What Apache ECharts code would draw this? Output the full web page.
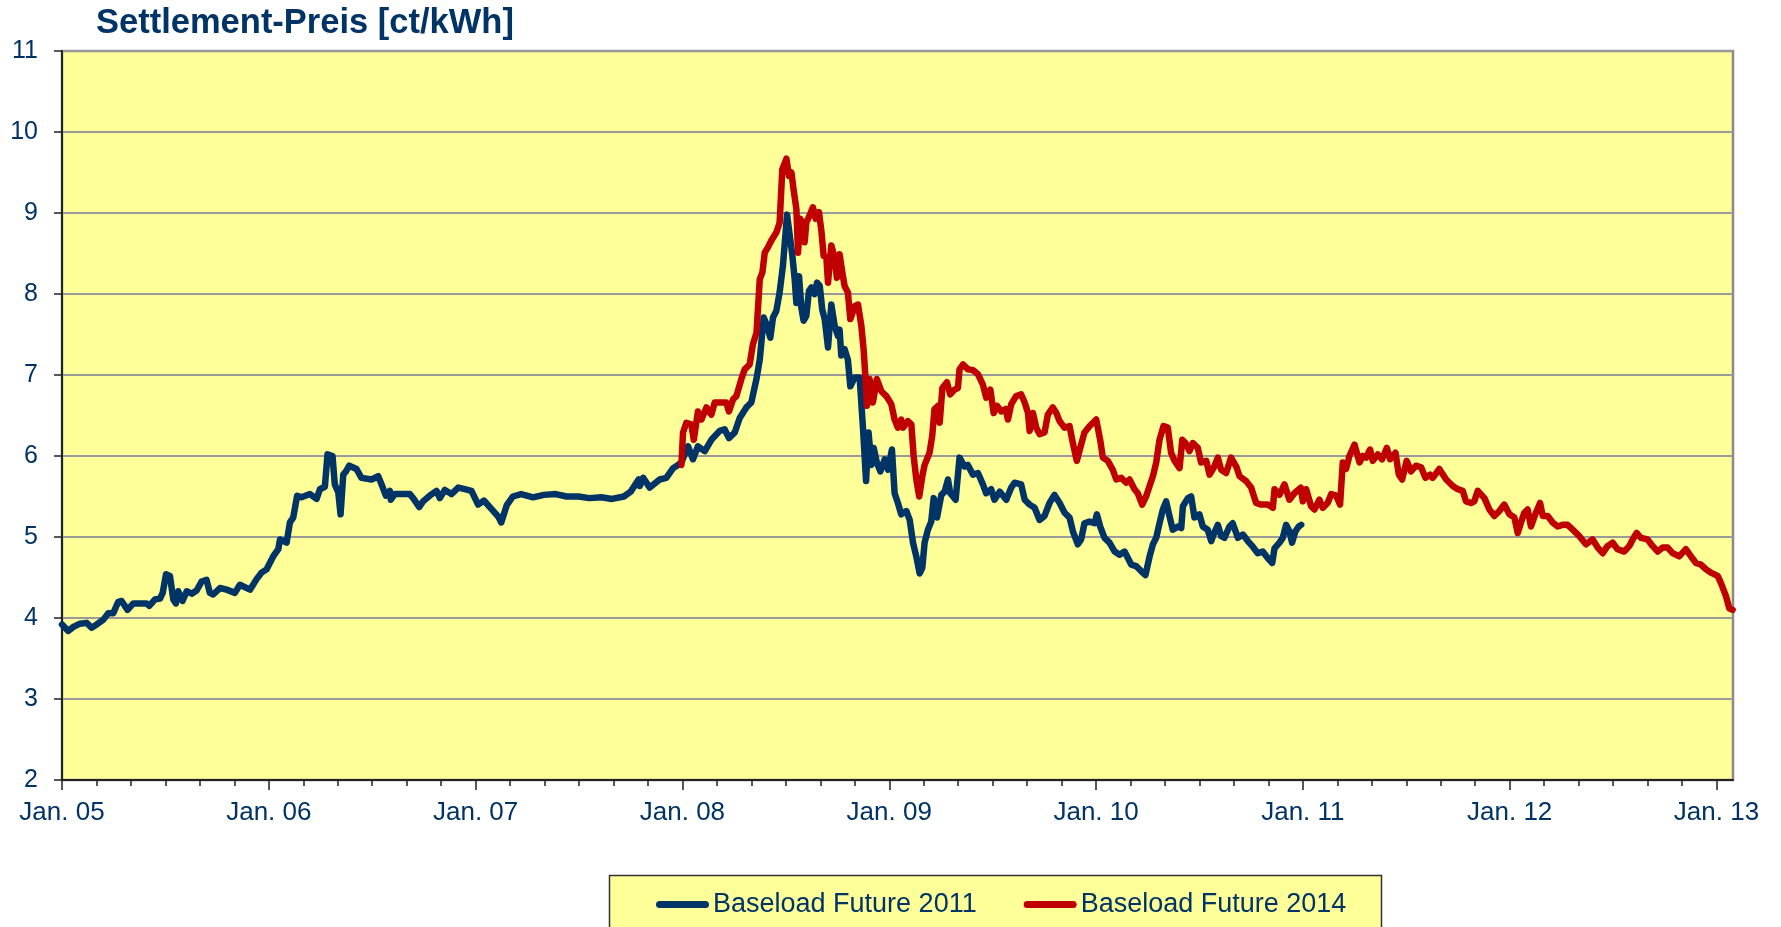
<!DOCTYPE html>
<html>
<head>
<meta charset="utf-8">
<title>Settlement-Preis</title>
<script src="https://cdn.jsdelivr.net/npm/echarts@6/dist/echarts.min.js"></script>
<style>
    html, body { margin: 0; padding: 0; background: #ffffff; }
    #chart { width: 1781px; height: 927px; }
</style>
</head>
<body>
<div id="chart"></div>
<script>
// x values are decimal years, y values in ct/kWh
var future2011 = [
    [2005.000, 3.92], [2005.030, 3.84], [2005.055, 3.89], [2005.087, 3.93], [2005.119, 3.94],
    [2005.143, 3.88], [2005.168, 3.92], [2005.200, 3.98], [2005.224, 4.06], [2005.248, 4.06],
    [2005.272, 4.20], [2005.288, 4.21], [2005.317, 4.10], [2005.345, 4.18], [2005.409, 4.18],
    [2005.422, 4.15], [2005.450, 4.23], [2005.474, 4.24], [2005.487, 4.31], [2005.503, 4.54],
    [2005.522, 4.52], [2005.538, 4.23], [2005.551, 4.18], [2005.562, 4.33], [2005.583, 4.21],
    [2005.603, 4.33], [2005.627, 4.30], [2005.651, 4.34], [2005.675, 4.45], [2005.699, 4.47],
    [2005.715, 4.31], [2005.731, 4.29], [2005.764, 4.37], [2005.796, 4.35], [2005.836, 4.31],
    [2005.860, 4.41], [2005.909, 4.35], [2005.941, 4.48], [2005.965, 4.56], [2005.989, 4.60],
    [2006.021, 4.76], [2006.046, 4.85], [2006.054, 4.97], [2006.086, 4.93], [2006.102, 5.18],
    [2006.118, 5.24], [2006.137, 5.51], [2006.158, 5.49], [2006.199, 5.53], [2006.231, 5.47],
    [2006.247, 5.59], [2006.271, 5.62], [2006.284, 6.02], [2006.308, 6.00], [2006.319, 5.65],
    [2006.336, 5.55], [2006.347, 5.28], [2006.360, 5.77], [2006.373, 5.81], [2006.389, 5.88],
    [2006.424, 5.84], [2006.448, 5.73], [2006.497, 5.71], [2006.529, 5.75], [2006.545, 5.65],
    [2006.566, 5.51], [2006.585, 5.57], [2006.590, 5.46], [2006.609, 5.53], [2006.682, 5.53],
    [2006.698, 5.48], [2006.727, 5.37], [2006.746, 5.44], [2006.778, 5.51], [2006.811, 5.57],
    [2006.827, 5.48], [2006.851, 5.58], [2006.883, 5.53], [2006.916, 5.61], [2006.948, 5.59],
    [2006.980, 5.57], [2007.012, 5.40], [2007.040, 5.45], [2007.086, 5.32], [2007.110, 5.25],
    [2007.124, 5.18], [2007.150, 5.39], [2007.180, 5.50], [2007.220, 5.53], [2007.278, 5.49],
    [2007.330, 5.52], [2007.387, 5.53], [2007.440, 5.50], [2007.497, 5.50], [2007.550, 5.48],
    [2007.607, 5.49], [2007.660, 5.47], [2007.717, 5.50], [2007.750, 5.56], [2007.788, 5.71],
    [2007.794, 5.63], [2007.810, 5.73], [2007.842, 5.61], [2007.890, 5.71], [2007.922, 5.73],
    [2007.955, 5.85], [2007.979, 5.89], [2007.995, 5.92], [2008.027, 6.12], [2008.051, 5.96],
    [2008.075, 6.12], [2008.108, 6.06], [2008.140, 6.20], [2008.180, 6.31], [2008.204, 6.33],
    [2008.225, 6.22], [2008.253, 6.29], [2008.277, 6.47], [2008.309, 6.60], [2008.333, 6.66],
    [2008.358, 6.95], [2008.374, 7.19], [2008.393, 7.71], [2008.409, 7.61], [2008.425, 7.46],
    [2008.438, 7.71], [2008.454, 7.79], [2008.470, 8.02], [2008.486, 8.35], [2008.506, 8.98],
    [2008.519, 8.72], [2008.531, 8.49], [2008.543, 8.18], [2008.551, 7.89], [2008.564, 8.22],
    [2008.575, 7.83], [2008.586, 7.67], [2008.599, 7.73], [2008.612, 8.04], [2008.623, 8.08],
    [2008.639, 8.00], [2008.651, 8.14], [2008.664, 8.10], [2008.676, 7.81], [2008.688, 7.69],
    [2008.704, 7.34], [2008.720, 7.87], [2008.736, 7.61], [2008.752, 7.48], [2008.760, 7.56],
    [2008.768, 7.24], [2008.784, 7.32], [2008.800, 7.19], [2008.812, 6.86], [2008.833, 6.97],
    [2008.857, 6.97], [2008.873, 6.35], [2008.888, 5.69], [2008.900, 6.29], [2008.914, 5.89],
    [2008.925, 6.10], [2008.940, 5.92], [2008.957, 5.81], [2008.978, 5.96], [2008.994, 5.83],
    [2009.013, 6.08], [2009.026, 5.54], [2009.042, 5.42], [2009.058, 5.28], [2009.083, 5.32],
    [2009.099, 5.21], [2009.115, 4.93], [2009.131, 4.76], [2009.147, 4.55], [2009.160, 4.62],
    [2009.171, 4.93], [2009.187, 5.09], [2009.203, 5.19], [2009.215, 5.48], [2009.231, 5.24],
    [2009.252, 5.52], [2009.268, 5.56], [2009.284, 5.71], [2009.295, 5.54], [2009.321, 5.46],
    [2009.340, 5.98], [2009.364, 5.87], [2009.380, 5.89], [2009.405, 5.77], [2009.429, 5.79],
    [2009.453, 5.65], [2009.469, 5.54], [2009.493, 5.59], [2009.509, 5.46], [2009.534, 5.56],
    [2009.566, 5.46], [2009.590, 5.61], [2009.606, 5.67], [2009.638, 5.65], [2009.655, 5.46],
    [2009.679, 5.40], [2009.703, 5.36], [2009.727, 5.21], [2009.751, 5.26], [2009.775, 5.42],
    [2009.799, 5.52], [2009.824, 5.42], [2009.848, 5.30], [2009.872, 5.24], [2009.888, 5.07],
    [2009.912, 4.91], [2009.928, 4.97], [2009.944, 5.17], [2009.968, 5.19], [2009.993, 5.17],
    [2010.004, 5.28], [2010.020, 5.13], [2010.041, 4.99], [2010.065, 4.93], [2010.090, 4.82],
    [2010.114, 4.78], [2010.138, 4.82], [2010.154, 4.74], [2010.170, 4.66], [2010.194, 4.64],
    [2010.218, 4.58], [2010.239, 4.53], [2010.259, 4.76], [2010.275, 4.91], [2010.291, 4.99],
    [2010.307, 5.17], [2010.323, 5.34], [2010.339, 5.44], [2010.355, 5.26], [2010.371, 5.09],
    [2010.396, 5.13], [2010.412, 5.11], [2010.420, 5.38], [2010.444, 5.48], [2010.460, 5.50],
    [2010.476, 5.24], [2010.500, 5.28], [2010.516, 5.13], [2010.540, 5.09], [2010.557, 4.95],
    [2010.568, 5.03], [2010.589, 5.15], [2010.605, 5.01], [2010.621, 4.99], [2010.645, 5.13],
    [2010.661, 5.17], [2010.686, 4.99], [2010.710, 5.03], [2010.734, 4.95], [2010.758, 4.88],
    [2010.782, 4.80], [2010.806, 4.82], [2010.830, 4.74], [2010.852, 4.68], [2010.863, 4.86],
    [2010.887, 4.93], [2010.903, 4.99], [2010.919, 5.15], [2010.935, 5.07], [2010.948, 4.93],
    [2010.964, 5.07], [2010.980, 5.13], [2010.992, 5.15]
];

var future2014 = [
    [2007.995, 5.89], [2008.003, 6.29], [2008.019, 6.41], [2008.043, 6.39], [2008.055, 6.20],
    [2008.075, 6.55], [2008.092, 6.45], [2008.116, 6.60], [2008.140, 6.51], [2008.156, 6.66],
    [2008.188, 6.66], [2008.212, 6.66], [2008.225, 6.55], [2008.245, 6.70], [2008.261, 6.74],
    [2008.285, 6.95], [2008.301, 7.07], [2008.325, 7.13], [2008.341, 7.38], [2008.358, 7.52],
    [2008.374, 8.18], [2008.387, 8.27], [2008.398, 8.51], [2008.414, 8.58], [2008.430, 8.66],
    [2008.454, 8.76], [2008.470, 8.88], [2008.483, 9.54], [2008.503, 9.67], [2008.515, 9.46],
    [2008.527, 9.50], [2008.538, 9.28], [2008.551, 9.05], [2008.559, 8.51], [2008.570, 8.93],
    [2008.580, 8.88], [2008.591, 8.64], [2008.599, 8.88], [2008.615, 8.97], [2008.631, 9.07],
    [2008.644, 8.93], [2008.660, 9.01], [2008.672, 8.78], [2008.683, 8.47], [2008.696, 8.45],
    [2008.704, 8.14], [2008.720, 8.60], [2008.736, 8.45], [2008.747, 8.20], [2008.760, 8.49],
    [2008.773, 8.27], [2008.784, 8.10], [2008.800, 8.02], [2008.812, 7.69], [2008.833, 7.85],
    [2008.849, 7.87], [2008.865, 7.61], [2008.876, 7.32], [2008.884, 7.01], [2008.892, 6.62],
    [2008.905, 6.95], [2008.921, 6.66], [2008.940, 6.95], [2008.962, 6.80], [2008.986, 6.74],
    [2009.010, 6.64], [2009.026, 6.45], [2009.042, 6.35], [2009.058, 6.45], [2009.066, 6.35],
    [2009.090, 6.43], [2009.107, 6.39], [2009.118, 6.00], [2009.131, 5.71], [2009.145, 5.50],
    [2009.160, 5.75], [2009.171, 5.89], [2009.195, 6.04], [2009.208, 6.25], [2009.219, 6.58],
    [2009.236, 6.62], [2009.244, 6.41], [2009.257, 6.84], [2009.279, 6.91], [2009.295, 6.76],
    [2009.316, 6.82], [2009.332, 6.84], [2009.340, 7.07], [2009.357, 7.13], [2009.381, 7.07],
    [2009.405, 7.06], [2009.429, 7.01], [2009.453, 6.88], [2009.469, 6.72], [2009.489, 6.82],
    [2009.505, 6.53], [2009.521, 6.62], [2009.542, 6.55], [2009.563, 6.58], [2009.574, 6.45],
    [2009.590, 6.64], [2009.614, 6.74], [2009.638, 6.76], [2009.655, 6.66], [2009.671, 6.53],
    [2009.679, 6.31], [2009.695, 6.53], [2009.711, 6.35], [2009.727, 6.27], [2009.751, 6.29],
    [2009.767, 6.51], [2009.791, 6.60], [2009.808, 6.53], [2009.824, 6.43], [2009.848, 6.35],
    [2009.872, 6.37], [2009.888, 6.16], [2009.907, 5.94], [2009.928, 6.14], [2009.944, 6.29],
    [2009.969, 6.37], [2010.001, 6.45], [2010.020, 6.20], [2010.033, 5.98], [2010.057, 5.94],
    [2010.081, 5.83], [2010.098, 5.71], [2010.122, 5.73], [2010.146, 5.67], [2010.162, 5.71],
    [2010.186, 5.59], [2010.202, 5.54], [2010.223, 5.40], [2010.242, 5.50], [2010.259, 5.63],
    [2010.275, 5.75], [2010.291, 5.92], [2010.307, 6.20], [2010.326, 6.37], [2010.347, 6.35],
    [2010.363, 6.04], [2010.380, 5.94], [2010.404, 5.85], [2010.417, 6.20], [2010.433, 6.16],
    [2010.452, 6.06], [2010.468, 6.16], [2010.492, 6.10], [2010.508, 5.92], [2010.533, 5.94],
    [2010.549, 5.77], [2010.568, 5.85], [2010.589, 5.98], [2010.605, 5.83], [2010.629, 5.79],
    [2010.653, 5.98], [2010.678, 5.87], [2010.694, 5.75], [2010.726, 5.69], [2010.750, 5.61],
    [2010.774, 5.42], [2010.798, 5.40], [2010.830, 5.40], [2010.855, 5.36], [2010.863, 5.59],
    [2010.887, 5.52], [2010.911, 5.65], [2010.935, 5.46], [2010.959, 5.54], [2010.990, 5.61],
    [2011.000, 5.44], [2011.016, 5.59], [2011.040, 5.38], [2011.056, 5.34], [2011.080, 5.46],
    [2011.096, 5.36], [2011.120, 5.42], [2011.137, 5.53], [2011.161, 5.51], [2011.180, 5.40],
    [2011.193, 5.92], [2011.209, 5.84], [2011.225, 6.00], [2011.250, 6.14], [2011.274, 5.92],
    [2011.290, 6.00], [2011.306, 5.98], [2011.325, 6.08], [2011.338, 5.94], [2011.362, 6.02],
    [2011.383, 5.96], [2011.406, 6.10], [2011.422, 5.96], [2011.448, 6.04], [2011.464, 5.77],
    [2011.480, 5.71], [2011.502, 5.94], [2011.523, 5.81], [2011.547, 5.88], [2011.572, 5.86],
    [2011.593, 5.73], [2011.615, 5.77], [2011.628, 5.73], [2011.660, 5.84], [2011.693, 5.71],
    [2011.725, 5.63], [2011.749, 5.59], [2011.773, 5.57], [2011.789, 5.44], [2011.813, 5.42],
    [2011.829, 5.44], [2011.846, 5.57], [2011.878, 5.48], [2011.902, 5.34], [2011.926, 5.26],
    [2011.950, 5.32], [2011.974, 5.40], [2011.999, 5.28], [2012.023, 5.24], [2012.039, 5.05],
    [2012.055, 5.18], [2012.071, 5.30], [2012.087, 5.34], [2012.103, 5.13], [2012.124, 5.28],
    [2012.147, 5.42], [2012.160, 5.26], [2012.184, 5.26], [2012.208, 5.18], [2012.232, 5.13],
    [2012.256, 5.15], [2012.280, 5.15], [2012.305, 5.09], [2012.337, 5.01], [2012.369, 4.91],
    [2012.401, 4.97], [2012.426, 4.87], [2012.450, 4.80], [2012.474, 4.89], [2012.498, 4.93],
    [2012.522, 4.85], [2012.554, 4.82], [2012.579, 4.89], [2012.595, 4.97], [2012.614, 5.05],
    [2012.635, 4.99], [2012.667, 4.97], [2012.691, 4.89], [2012.716, 4.82], [2012.740, 4.87],
    [2012.764, 4.87], [2012.788, 4.80], [2012.820, 4.76], [2012.852, 4.85], [2012.877, 4.76],
    [2012.901, 4.68], [2012.925, 4.66], [2012.950, 4.60], [2012.973, 4.56], [2013.006, 4.52],
    [2013.022, 4.43], [2013.046, 4.27], [2013.062, 4.12], [2013.078, 4.10]
];

var seriesNames = ['Baseload Future 2011', 'Baseload Future 2014'];
var yearTicks = [2005, 2006, 2007, 2008, 2009, 2010, 2011, 2012, 2013];

var navy = '#003366';
var font = '"Liberation Sans", Arial, sans-serif';

var chart = echarts.init(document.getElementById('chart'));

var option = {
    animation: false,
    backgroundColor: '#ffffff',
    textStyle: { fontFamily: font },
    title: {
        text: 'Settlement-Preis [ct/kWh]',
        left: 96,
        top: 6,
        padding: 0,
        textStyle: { fontFamily: font, fontSize: 34.5, fontWeight: 'bold', color: navy }
    },
    graphic: [{
        type: 'rect',
        z: 0,
        shape: { x: 609.5, y: 875.5, width: 772, height: 80 },
        style: { fill: '#FFFF99', stroke: '#333333', lineWidth: 1.5 }
    }],
    legend: {
        data: seriesNames,
        left: 656,
        top: 891,
        padding: 0,
        itemGap: 47,
        itemWidth: 53,
        itemHeight: 7,
        icon: 'path://M3.5,0 L49.5,0 A3.5,3.5 0 0 1 49.5,7 L3.5,7 A3.5,3.5 0 0 1 3.5,0 Z',
        textStyle: { fontFamily: font, fontSize: 27, color: navy, padding: [0, 0, 0, -1] }
    },
    grid: [{
        left: 62, right: 48, top: 51, bottom: 147,
        show: true,
        backgroundColor: '#FFFF99',
        borderColor: '#8a8a8a',
        borderWidth: 2.5
    }, {
        // tick/label grid, ends exactly at Jan. 13
        left: 62, width: 1654.5, top: 51, bottom: 147,
        show: false
    }],
    xAxis: [{
        gridIndex: 0,
        type: 'value',
        min: 2005,
        max: 2013.08,
        axisLine: { show: true, lineStyle: { color: '#222222', width: 2 } },
        axisTick: { show: false },
        axisLabel: { show: false },
        splitLine: { show: false }
    }, {
        gridIndex: 1,
        type: 'value',
        min: yearTicks[0],
        max: yearTicks[yearTicks.length - 1],
        interval: 1,
        axisLine: { show: false },
        axisTick: { show: true, length: 10, lineStyle: { color: '#222222', width: 1.5 } },
        minorTick: { show: true, splitNumber: 6, length: 6, lineStyle: { color: '#222222', width: 1.5 } },
        splitLine: { show: false },
        axisLabel: {
            margin: 20,
            fontFamily: font,
            fontSize: 26,
            color: navy,
            formatter: function (v) {
                var yy = String(Math.round(v) - 2000);
                return 'Jan. ' + (yy.length < 2 ? '0' + yy : yy);
            }
        }
    }],
    yAxis: [{
        gridIndex: 0,
        type: 'value',
        min: 2,
        max: 11,
        interval: 1,
        axisLine: { show: true, lineStyle: { color: '#222222', width: 2 } },
        axisTick: { show: true, length: 8, lineStyle: { color: '#222222', width: 1.5 } },
        axisLabel: { margin: 24, fontFamily: font, fontSize: 25, color: navy },
        splitLine: { show: true, lineStyle: { color: '#9a9a9a', width: 2 } }
    }, {
        gridIndex: 1,
        type: 'value',
        min: 2,
        max: 11,
        show: false
    }],
    series: [{
        name: seriesNames[0],
        type: 'line',
        xAxisIndex: 0,
        yAxisIndex: 0,
        data: future2011,
        symbol: 'none',
        color: navy,
        lineStyle: { color: navy, width: 6.5, cap: 'round', join: 'round' }
    }, {
        name: seriesNames[1],
        type: 'line',
        xAxisIndex: 0,
        yAxisIndex: 0,
        data: future2014,
        symbol: 'none',
        color: '#C00000',
        lineStyle: { color: '#C00000', width: 6.5, cap: 'round', join: 'round' }
    }]
};

chart.setOption(option);
</script>
</body>
</html>
